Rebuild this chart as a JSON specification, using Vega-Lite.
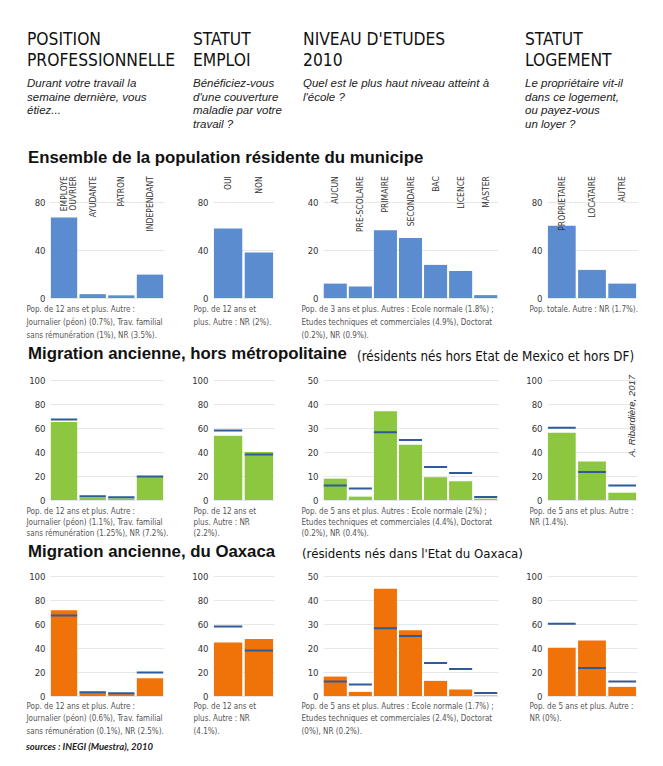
{
  "$schema": "https://vega.github.io/schema/vega-lite/v6.json",
  "background": "white",
  "padding": {"left": 26, "top": 30, "right": 5, "bottom": 5},
  "spacing": 6,
  "title": {"text": "sources : INEGI (Muestra), 2010", "orient": "bottom", "anchor": "start", "frame": "bounds", "font": "Lato", "fontSize": 9.5, "fontStyle": "italic", "fontWeight": "bold", "color": "#222", "offset": 7},
  "datasets": {
    "r1p1": [{"cat": "EMPLOYE\nOUVRIER", "v": 67}, {"cat": "AYUDANTE", "v": 3.2}, {"cat": "PATRON", "v": 2.2}, {"cat": "INDEPENDANT", "v": 19.5}],
    "r1p2": [{"cat": "OUI", "v": 58}, {"cat": "NON", "v": 38}],
    "r1p3": [{"cat": "AUCUN", "v": 6}, {"cat": "PRE-SCOLAIRE", "v": 4.8}, {"cat": "PRIMAIRE", "v": 28.2}, {"cat": "SECONDAIRE", "v": 25}, {"cat": "BAC", "v": 13.8}, {"cat": "LICENCE", "v": 11.2}, {"cat": "MASTER", "v": 1.2}],
    "r1p4": [{"cat": "PROPRIETAIRE", "v": 60.3}, {"cat": "LOCATAIRE", "v": 23.4}, {"cat": "AUTRE", "v": 12}],
    "r2p1": [{"cat": "EMPLOYE\nOUVRIER", "v": 65, "ref": 67}, {"cat": "AYUDANTE", "v": 2.2, "ref": 3.2}, {"cat": "PATRON", "v": 1.4, "ref": 2.2}, {"cat": "INDEPENDANT", "v": 19.4, "ref": 19.5}],
    "r2p2": [{"cat": "OUI", "v": 53.6, "ref": 58}, {"cat": "NON", "v": 40, "ref": 38}],
    "r2p3": [{"cat": "AUCUN", "v": 8.9, "ref": 6}, {"cat": "PRE-SCOLAIRE", "v": 1.4, "ref": 4.8}, {"cat": "PRIMAIRE", "v": 37, "ref": 28.2}, {"cat": "SECONDAIRE", "v": 23, "ref": 25}, {"cat": "BAC", "v": 9.5, "ref": 13.8}, {"cat": "LICENCE", "v": 7.8, "ref": 11.2}, {"cat": "MASTER", "v": 0.6, "ref": 1.2}],
    "r2p4": [{"cat": "PROPRIETAIRE", "v": 56, "ref": 60.3}, {"cat": "LOCATAIRE", "v": 32, "ref": 23.4}, {"cat": "AUTRE", "v": 6.1, "ref": 12}],
    "r3p1": [{"cat": "EMPLOYE\nOUVRIER", "v": 71.5, "ref": 67}, {"cat": "AYUDANTE", "v": 3, "ref": 3.2}, {"cat": "PATRON", "v": 2, "ref": 2.2}, {"cat": "INDEPENDANT", "v": 14.8, "ref": 19.5}],
    "r3p2": [{"cat": "OUI", "v": 44.6, "ref": 58}, {"cat": "NON", "v": 47.5, "ref": 38}],
    "r3p3": [{"cat": "AUCUN", "v": 8.1, "ref": 6}, {"cat": "PRE-SCOLAIRE", "v": 1.7, "ref": 4.8}, {"cat": "PRIMAIRE", "v": 44.7, "ref": 28.2}, {"cat": "SECONDAIRE", "v": 27.4, "ref": 25}, {"cat": "BAC", "v": 6.3, "ref": 13.8}, {"cat": "LICENCE", "v": 2.7, "ref": 11.2}, {"cat": "MASTER", "v": 0.2, "ref": 1.2}],
    "r3p4": [{"cat": "PROPRIETAIRE", "v": 40.2, "ref": 60.3}, {"cat": "LOCATAIRE", "v": 46.3, "ref": 23.4}, {"cat": "AUTRE", "v": 7.6, "ref": 12}],
    "blank": [{"t": ""}]
  },
  "vconcat": [
    {
      "hconcat": [
        {"width": 114, "height": 14, "data": {"name": "blank"}, "mark": "text", "encoding": {"text": {"field": "t", "type": "nominal"}},
         "title": {"text": ["POSITION", "PROFESSIONNELLE"], "subtitle": ["Durant votre travail la", "semaine dernière, vous", "étiez...", ""], "anchor": "start", "frame": "group", "dx": -23, "offset": 0, "font": "DejaVu Sans Condensed", "fontSize": 17.3, "fontWeight": "normal", "lineHeight": 21, "color": "#111", "subtitleFont": "Liberation Sans", "subtitleFontSize": 11.5, "subtitleFontStyle": "italic", "subtitleColor": "#222", "subtitleLineHeight": 13.5, "subtitlePadding": 9}},
        {"width": 61, "height": 14, "data": {"name": "blank"}, "mark": "text", "encoding": {"text": {"field": "t", "type": "nominal"}},
         "title": {"text": ["STATUT", "EMPLOI"], "subtitle": ["Bénéficiez-vous", "d'une couverture", "maladie par votre", "travail ?"], "anchor": "start", "frame": "group", "dx": -20, "offset": 0, "font": "DejaVu Sans Condensed", "fontSize": 17.3, "fontWeight": "normal", "lineHeight": 21, "color": "#111", "subtitleFont": "Liberation Sans", "subtitleFontSize": 11.5, "subtitleFontStyle": "italic", "subtitleColor": "#222", "subtitleLineHeight": 13.5, "subtitlePadding": 9}},
        {"width": 175, "height": 14, "data": {"name": "blank"}, "mark": "text", "encoding": {"text": {"field": "t", "type": "nominal"}},
         "title": {"text": ["NIVEAU D'ETUDES", "2010"], "subtitle": ["Quel est le plus haut niveau atteint à", "l'école ?", "", ""], "anchor": "start", "frame": "group", "dx": -20, "offset": 0, "font": "DejaVu Sans Condensed", "fontSize": 17.3, "fontWeight": "normal", "lineHeight": 21, "color": "#111", "subtitleFont": "Liberation Sans", "subtitleFontSize": 11.5, "subtitleFontStyle": "italic", "subtitleColor": "#222", "subtitleLineHeight": 13.5, "subtitlePadding": 9}},
        {"width": 90, "height": 14, "data": {"name": "blank"}, "mark": "text", "encoding": {"text": {"field": "t", "type": "nominal"}},
         "title": {"text": ["STATUT", "LOGEMENT"], "subtitle": ["Le propriétaire vit-il", "dans ce logement,", "ou payez-vous", "un loyer ?"], "anchor": "start", "frame": "group", "dx": -22, "offset": 0, "font": "DejaVu Sans Condensed", "fontSize": 17.3, "fontWeight": "normal", "lineHeight": 21, "color": "#111", "subtitleFont": "Liberation Sans", "subtitleFontSize": 11.5, "subtitleFontStyle": "italic", "subtitleColor": "#222", "subtitleLineHeight": 13.5, "subtitlePadding": 9}}
      ],
      "spacing": 49, "bounds": "flush"
    },
    {
      "hconcat": [
        {"width": 114, "height": 120, "data": {"name": "r1p1"},
         "title": {"text": "Ensemble de la population résidente du municipe", "anchor": "start", "frame": "group", "dx": -22, "offset": 9, "font": "Liberation Sans", "fontSize": 16.8, "fontWeight": "bold", "color": "#111"},
         "encoding": {"x": {"field": "cat", "type": "nominal", "sort": null, "scale": {"paddingInner": 0.08, "paddingOuter": 0.03},
           "axis": {"labels": false, "grid": false, "title": ["Pop. de 12 ans et plus. Autre :", "Journalier (péon) (0.7%), Trav. familial", "sans rémunération (1%), NR (3.5%)."], "titleX": -24, "titleY": 7, "titleAlign": "left", "titleBaseline": "top", "titleAngle": 0, "titleLineHeight": 13.3}}},
         "layer": [
           {"mark": {"type": "bar", "color": "#5b8ccf"}, "encoding": {"y": {"field": "v", "type": "quantitative", "scale": {"domain": [0, 100]}, "axis": {"title": null, "values": [0, 20, 40, 60, 80], "grid": true, "labelPadding": 5}}}},
           {"mark": {"type": "text", "angle": 270, "align": "right", "baseline": "middle", "fontSize": 8.5, "font": "DejaVu Sans Condensed", "color": "#333", "lineBreak": "\n", "lineHeight": 9}, "encoding": {"y": {"datum": 101.5}, "text": {"field": "cat", "type": "nominal"}}}
         ]},
        {"width": 61, "height": 120, "data": {"name": "r1p2"},
         "encoding": {"x": {"field": "cat", "type": "nominal", "sort": null, "scale": {"paddingInner": 0.08, "paddingOuter": 0.03},
           "axis": {"labels": false, "grid": false, "title": ["Pop. de 12 ans et", "plus. Autre : NR (2%)."], "titleX": -20, "titleY": 7, "titleAlign": "left", "titleBaseline": "top", "titleAngle": 0, "titleLineHeight": 13.3}}},
         "layer": [
           {"mark": {"type": "bar", "color": "#5b8ccf"}, "encoding": {"y": {"field": "v", "type": "quantitative", "scale": {"domain": [0, 100]}, "axis": {"title": null, "values": [0, 20, 40, 60, 80], "grid": true, "labelPadding": 5}}}},
           {"mark": {"type": "text", "angle": 270, "align": "right", "baseline": "middle", "fontSize": 8.5, "font": "DejaVu Sans Condensed", "color": "#333"}, "encoding": {"y": {"datum": 101.5}, "text": {"field": "cat", "type": "nominal"}}}
         ]},
        {"width": 175, "height": 120, "data": {"name": "r1p3"},
         "encoding": {"x": {"field": "cat", "type": "nominal", "sort": null, "scale": {"paddingInner": 0.08, "paddingOuter": 0.03},
           "axis": {"labels": false, "grid": false, "title": ["Pop. de 3 ans et plus. Autres : Ecole normale (1.8%) ;", "Etudes techniques et commerciales (4.9%), Doctorat", "(0.2%), NR (0.9%)."], "titleX": -22, "titleY": 7, "titleAlign": "left", "titleBaseline": "top", "titleAngle": 0, "titleLineHeight": 13.3}}},
         "layer": [
           {"mark": {"type": "bar", "color": "#5b8ccf"}, "encoding": {"y": {"field": "v", "type": "quantitative", "scale": {"domain": [0, 50]}, "axis": {"title": null, "values": [0, 10, 20, 30, 40], "grid": true, "labelPadding": 5}}}},
           {"mark": {"type": "text", "angle": 270, "align": "right", "baseline": "middle", "fontSize": 8.5, "font": "DejaVu Sans Condensed", "color": "#333"}, "encoding": {"y": {"datum": 50.75}, "text": {"field": "cat", "type": "nominal"}}}
         ]},
        {"width": 90, "height": 120, "data": {"name": "r1p4"},
         "encoding": {"x": {"field": "cat", "type": "nominal", "sort": null, "scale": {"paddingInner": 0.08, "paddingOuter": 0.03},
           "axis": {"labels": false, "grid": false, "title": ["Pop. totale. Autre : NR (1.7%)."], "titleX": -18, "titleY": 7, "titleAlign": "left", "titleBaseline": "top", "titleAngle": 0, "titleLineHeight": 13.3}}},
         "layer": [
           {"mark": {"type": "bar", "color": "#5b8ccf"}, "encoding": {"y": {"field": "v", "type": "quantitative", "scale": {"domain": [0, 100]}, "axis": {"title": null, "values": [0, 20, 40, 60, 80], "grid": true, "labelPadding": 5}}}},
           {"mark": {"type": "text", "angle": 270, "align": "right", "baseline": "middle", "fontSize": 8.5, "font": "DejaVu Sans Condensed", "color": "#333"}, "encoding": {"y": {"datum": 101.5}, "text": {"field": "cat", "type": "nominal"}}}
         ]}
      ],
      "spacing": 49, "bounds": "flush"
    },
    {
      "hconcat": [
        {"width": 114, "height": 120, "data": {"name": "r2p1"},
         "title": {"text": "Migration ancienne, hors métropolitaine", "anchor": "start", "frame": "group", "dx": -22, "offset": 12, "font": "Liberation Sans", "fontSize": 16.8, "fontWeight": "bold", "color": "#111"},
         "encoding": {"x": {"field": "cat", "type": "nominal", "sort": null, "scale": {"paddingInner": 0.08, "paddingOuter": 0.03},
           "axis": {"labels": false, "grid": false, "title": ["Pop. de 12 ans et plus. Autre :", "Journalier (péon) (1.1%), Trav. familial", "sans rémunération (1.25%), NR (7.2%)."], "titleX": -24, "titleY": 7, "titleAlign": "left", "titleBaseline": "top", "titleAngle": 0, "titleLineHeight": 11.2}}},
         "layer": [
           {"mark": {"type": "bar", "color": "#8dc63f"}, "encoding": {"y": {"field": "v", "type": "quantitative", "scale": {"domain": [0, 100]}, "axis": {"title": null, "values": [0, 20, 40, 60, 80, 100], "grid": true, "labelPadding": 5}}}},
           {"mark": {"type": "bar", "fillOpacity": 0, "stroke": "#2e5b9a", "strokeWidth": 2}, "encoding": {"y": {"field": "ref", "type": "quantitative", "axis": {"title": null, "values": [0, 20, 40, 60, 80, 100], "grid": true, "labelPadding": 5}}, "y2": {"field": "ref"}}}
         ]},
        {"width": 61, "height": 120, "data": {"name": "r2p2"},
         "encoding": {"x": {"field": "cat", "type": "nominal", "sort": null, "scale": {"paddingInner": 0.08, "paddingOuter": 0.03},
           "axis": {"labels": false, "grid": false, "title": ["Pop. de 12 ans et", "plus. Autre : NR", "(2.2%)."], "titleX": -20, "titleY": 7, "titleAlign": "left", "titleBaseline": "top", "titleAngle": 0, "titleLineHeight": 11.2}}},
         "layer": [
           {"mark": {"type": "bar", "color": "#8dc63f"}, "encoding": {"y": {"field": "v", "type": "quantitative", "scale": {"domain": [0, 100]}, "axis": {"title": null, "values": [0, 20, 40, 60, 80, 100], "grid": true, "labelPadding": 5}}}},
           {"mark": {"type": "bar", "fillOpacity": 0, "stroke": "#2e5b9a", "strokeWidth": 2}, "encoding": {"y": {"field": "ref", "type": "quantitative", "axis": {"title": null, "values": [0, 20, 40, 60, 80, 100], "grid": true, "labelPadding": 5}}, "y2": {"field": "ref"}}}
         ]},
        {"width": 175, "height": 120, "data": {"name": "r2p3"},
         "title": {"text": "(résidents nés hors Etat de Mexico et hors DF)", "anchor": "start", "frame": "group", "dx": 34, "offset": 12, "font": "DejaVu Sans Condensed", "fontSize": 13.3, "fontWeight": "normal", "color": "#111"},
         "encoding": {"x": {"field": "cat", "type": "nominal", "sort": null, "scale": {"paddingInner": 0.08, "paddingOuter": 0.03},
           "axis": {"labels": false, "grid": false, "title": ["Pop. de 5 ans et plus. Autres : Ecole normale (2%) ;", "Etudes techniques et commerciales (4.4%), Doctorat", "(0.2%), NR (0.4%)."], "titleX": -22, "titleY": 7, "titleAlign": "left", "titleBaseline": "top", "titleAngle": 0, "titleLineHeight": 11.2}}},
         "layer": [
           {"mark": {"type": "bar", "color": "#8dc63f"}, "encoding": {"y": {"field": "v", "type": "quantitative", "scale": {"domain": [0, 50]}, "axis": {"title": null, "values": [0, 10, 20, 30, 40, 50], "grid": true, "labelPadding": 5}}}},
           {"mark": {"type": "bar", "fillOpacity": 0, "stroke": "#2e5b9a", "strokeWidth": 2}, "encoding": {"y": {"field": "ref", "type": "quantitative", "axis": {"title": null, "values": [0, 10, 20, 30, 40, 50], "grid": true, "labelPadding": 5}}, "y2": {"field": "ref"}}}
         ]},
        {"width": 90, "height": 120, "data": {"name": "r2p4"},
         "title": {"text": "A. Ribardière, 2017", "orient": "right", "anchor": "start", "angle": 270, "align": "right", "offset": -20, "font": "Liberation Sans", "fontSize": 9.5, "fontStyle": "italic", "fontWeight": "normal", "color": "#333"},
         "encoding": {"x": {"field": "cat", "type": "nominal", "sort": null, "scale": {"paddingInner": 0.08, "paddingOuter": 0.03},
           "axis": {"labels": false, "grid": false, "title": ["Pop. de 5 ans et plus. Autre :", "NR (1.4%)."], "titleX": -18, "titleY": 7, "titleAlign": "left", "titleBaseline": "top", "titleAngle": 0, "titleLineHeight": 11.2}}},
         "layer": [
           {"mark": {"type": "bar", "color": "#8dc63f"}, "encoding": {"y": {"field": "v", "type": "quantitative", "scale": {"domain": [0, 100]}, "axis": {"title": null, "values": [0, 20, 40, 60, 80, 100], "grid": true, "labelPadding": 5}}}},
           {"mark": {"type": "bar", "fillOpacity": 0, "stroke": "#2e5b9a", "strokeWidth": 2}, "encoding": {"y": {"field": "ref", "type": "quantitative", "axis": {"title": null, "values": [0, 20, 40, 60, 80, 100], "grid": true, "labelPadding": 5}}, "y2": {"field": "ref"}}}
         ]}
      ],
      "spacing": 49, "bounds": "flush"
    },
    {
      "hconcat": [
        {"width": 114, "height": 120, "data": {"name": "r3p1"},
         "title": {"text": "Migration ancienne, du Oaxaca", "anchor": "start", "frame": "group", "dx": -22, "offset": 10, "font": "Liberation Sans", "fontSize": 16.8, "fontWeight": "bold", "color": "#111"},
         "encoding": {"x": {"field": "cat", "type": "nominal", "sort": null, "scale": {"paddingInner": 0.08, "paddingOuter": 0.03},
           "axis": {"labels": false, "grid": false, "title": ["Pop. de 12 ans et plus. Autre :", "Journalier (péon) (0.6%), Trav. familial", "sans rémunération (0.1%), NR (2.5%)."], "titleX": -24, "titleY": 6, "titleAlign": "left", "titleBaseline": "top", "titleAngle": 0, "titleLineHeight": 12.5}}},
         "layer": [
           {"mark": {"type": "bar", "color": "#ef7308"}, "encoding": {"y": {"field": "v", "type": "quantitative", "scale": {"domain": [0, 100]}, "axis": {"title": null, "values": [0, 20, 40, 60, 80, 100], "grid": true, "labelPadding": 5}}}},
           {"mark": {"type": "bar", "fillOpacity": 0, "stroke": "#2e5b9a", "strokeWidth": 2}, "encoding": {"y": {"field": "ref", "type": "quantitative", "axis": {"title": null, "values": [0, 20, 40, 60, 80, 100], "grid": true, "labelPadding": 5}}, "y2": {"field": "ref"}}}
         ]},
        {"width": 61, "height": 120, "data": {"name": "r3p2"},
         "encoding": {"x": {"field": "cat", "type": "nominal", "sort": null, "scale": {"paddingInner": 0.08, "paddingOuter": 0.03},
           "axis": {"labels": false, "grid": false, "title": ["Pop. de 12 ans et", "plus. Autre : NR", "(4.1%)."], "titleX": -20, "titleY": 6, "titleAlign": "left", "titleBaseline": "top", "titleAngle": 0, "titleLineHeight": 12.5}}},
         "layer": [
           {"mark": {"type": "bar", "color": "#ef7308"}, "encoding": {"y": {"field": "v", "type": "quantitative", "scale": {"domain": [0, 100]}, "axis": {"title": null, "values": [0, 20, 40, 60, 80, 100], "grid": true, "labelPadding": 5}}}},
           {"mark": {"type": "bar", "fillOpacity": 0, "stroke": "#2e5b9a", "strokeWidth": 2}, "encoding": {"y": {"field": "ref", "type": "quantitative", "axis": {"title": null, "values": [0, 20, 40, 60, 80, 100], "grid": true, "labelPadding": 5}}, "y2": {"field": "ref"}}}
         ]},
        {"width": 175, "height": 120, "data": {"name": "r3p3"},
         "title": {"text": "(résidents nés dans l'Etat du Oaxaca)", "anchor": "start", "frame": "group", "dx": -21, "offset": 10, "font": "DejaVu Sans Condensed", "fontSize": 13.1, "fontWeight": "normal", "color": "#111"},
         "encoding": {"x": {"field": "cat", "type": "nominal", "sort": null, "scale": {"paddingInner": 0.08, "paddingOuter": 0.03},
           "axis": {"labels": false, "grid": false, "title": ["Pop. de 5 ans et plus. Autres : Ecole normale (1.7%) ;", "Etudes techniques et commerciales (2.4%), Doctorat", "(0%), NR (0.2%)."], "titleX": -22, "titleY": 6, "titleAlign": "left", "titleBaseline": "top", "titleAngle": 0, "titleLineHeight": 12.5}}},
         "layer": [
           {"mark": {"type": "bar", "color": "#ef7308"}, "encoding": {"y": {"field": "v", "type": "quantitative", "scale": {"domain": [0, 50]}, "axis": {"title": null, "values": [0, 10, 20, 30, 40, 50], "grid": true, "labelPadding": 5}}}},
           {"mark": {"type": "bar", "fillOpacity": 0, "stroke": "#2e5b9a", "strokeWidth": 2}, "encoding": {"y": {"field": "ref", "type": "quantitative", "axis": {"title": null, "values": [0, 10, 20, 30, 40, 50], "grid": true, "labelPadding": 5}}, "y2": {"field": "ref"}}}
         ]},
        {"width": 90, "height": 120, "data": {"name": "r3p4"},
         "encoding": {"x": {"field": "cat", "type": "nominal", "sort": null, "scale": {"paddingInner": 0.08, "paddingOuter": 0.03},
           "axis": {"labels": false, "grid": false, "title": ["Pop. de 5 ans et plus. Autre :", "NR (0%)."], "titleX": -18, "titleY": 6, "titleAlign": "left", "titleBaseline": "top", "titleAngle": 0, "titleLineHeight": 12.5}}},
         "layer": [
           {"mark": {"type": "bar", "color": "#ef7308"}, "encoding": {"y": {"field": "v", "type": "quantitative", "scale": {"domain": [0, 100]}, "axis": {"title": null, "values": [0, 20, 40, 60, 80, 100], "grid": true, "labelPadding": 5}}}},
           {"mark": {"type": "bar", "fillOpacity": 0, "stroke": "#2e5b9a", "strokeWidth": 2}, "encoding": {"y": {"field": "ref", "type": "quantitative", "axis": {"title": null, "values": [0, 20, 40, 60, 80, 100], "grid": true, "labelPadding": 5}}, "y2": {"field": "ref"}}}
         ]}
      ],
      "spacing": 49, "bounds": "flush"
    }
  ],
  "config": {
    "view": {"stroke": null},
    "axis": {"labelFont": "DejaVu Sans Condensed", "labelFontSize": 9.5, "labelColor": "#333", "domain": false, "ticks": false, "gridColor": "#e2e2e2", "gridWidth": 0.8, "titleFont": "DejaVu Sans Condensed", "titleFontSize": 8, "titleFontWeight": "normal", "titleColor": "#555"}
  }
}
